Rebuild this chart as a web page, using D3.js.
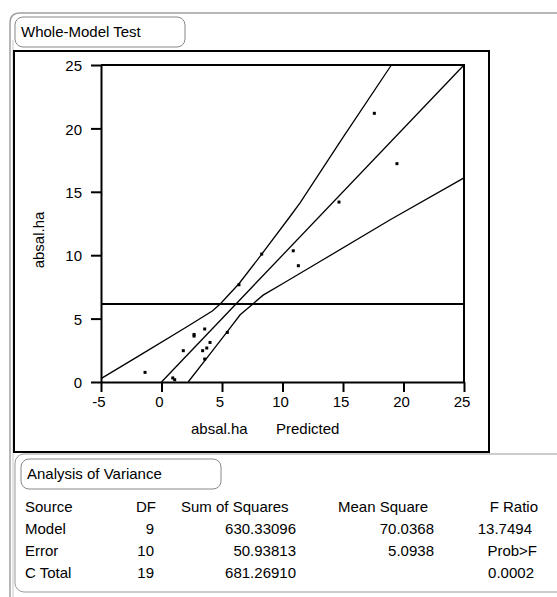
<!DOCTYPE html>
<html>
<head>
<meta charset="utf-8">
<script src="https://cdn.jsdelivr.net/npm/d3@7"></script>
<style>
	body { margin: 0; background: #fff; }
	svg { display: block; font-family: "Liberation Sans", Arial, sans-serif; font-size: 15px; }
	.axis path, .axis line { stroke: #000; stroke-width: 2px; }
	.axis text { font-size: 15px; fill: #000; }
</style>
</head>
<body>
<div id="chart"></div>
<script>
"use strict";

// predicted vs actual (leverage plot points)
var predicted = [-1.36, 0.93, 1.09, 1.80, 2.69, 2.69, 3.57, 3.40, 3.74, 4.01, 3.57, 5.44, 6.40, 8.28, 10.89, 11.31, 14.67, 19.46, 17.59];
var actual    = [0.76, 0.32, 0.18, 2.47, 3.75, 3.62, 4.18, 2.47, 2.68, 3.12, 1.81, 3.91, 7.67, 10.09, 10.35, 9.17, 14.19, 17.22, 21.19];

// confidence curves
var upperX = [-5, -1.8, 2.0, 4.2, 4.85, 6.4, 8.3, 10.7, 11.45, 15, 19];
var upperY = [0.27, 2.1, 4.3, 5.6, 6.15, 7.75, 10.1, 13.15, 14.12, 19.3, 25];
var lowerX = [2.2, 4.0, 5.5, 6.5, 7.6, 8.4, 10, 13.1, 18.9, 25];
var lowerY = [0, 2.2, 4.05, 5.3, 6.2, 6.85, 7.75, 9.5, 12.8, 16.1];
var fitLine = [0, 25];
var meanY = 6.15;

var xTicks = [-5, 0, 5, 10, 15, 20, 25];
var yTicks = [0, 5, 10, 15, 20, 25];

// anova table
var anovaHeader = ["Source", "DF", "Sum of Squares", "Mean Square", "F Ratio"];
var sources = ["Model", "Error", "C Total"];
var dfs = ["9", "10", "19"];
var sumSq = ["630.33096", "50.93813", "681.26910"];
var meanSq = ["70.0368", "5.0938", ""];
var fCol = ["13.7494", "Prob>F", "0.0002"];

var W = 557, H = 597;
var svg = d3.select("#chart").append("svg").attr("width", W).attr("height", H);

// outer report frame
svg.append("path")
	.attr("d", "M10,597 L10,23 Q10,13 20,13 L557,13")
	.attr("fill", "none").attr("stroke", "#a0a0a0").attr("stroke-width", 1.5);
svg.append("line").attr("x1", 13).attr("x2", 13).attr("y1", 40).attr("y2", 597)
	.attr("stroke", "#c8c8c8").attr("stroke-width", 1);

function titleBox(x, y, w, h, label) {
	svg.append("rect").attr("x", x).attr("y", y).attr("width", w).attr("height", h)
		.attr("rx", 8).attr("fill", "#fff").attr("stroke", "#888").attr("stroke-width", 1);
	svg.append("text").attr("x", x + 6).attr("y", y + h / 2 + 5).text(label);
}

titleBox(15, 17, 170, 30, "Whole-Model Test");

// plot frame
svg.append("rect").attr("x", 14).attr("y", 51).attr("width", 475).attr("height", 401)
	.attr("fill", "#fff").attr("stroke", "#000").attr("stroke-width", 2);

var x = d3.scaleLinear().domain([-5, 25]).range([101, 464]);
var y = d3.scaleLinear().domain([0, 25]).range([382, 65]);
var fmt = function(d) { return String(d); }; // plain hyphen minus like the original

var g = svg.append("g");

g.append("g")
	.attr("class", "axis axis--x")
	.attr("transform", "translate(0," + y(0) + ")")
	.call(d3.axisBottom(x).tickValues(xTicks).tickFormat(fmt).tickSize(10).tickSizeOuter(0).tickPadding(4))
	.selectAll("text").attr("dx", "-2.5");

g.append("g")
	.attr("class", "axis axis--y")
	.attr("transform", "translate(" + x(-5) + ",0)")
	.call(d3.axisLeft(y).tickValues(yTicks).tickFormat(fmt).tickSize(10).tickSizeOuter(0).tickPadding(9))
	.selectAll("text").attr("dy", "0.38em");

// top and right frame of the plot
g.append("path")
	.attr("d", "M" + x(-5) + "," + y(25) + "L" + x(25) + "," + y(25) + "L" + x(25) + "," + y(0))
	.attr("fill", "none").attr("stroke", "#000").attr("stroke-width", 2);

// mean line
g.append("line")
	.attr("x1", x(-5)).attr("x2", x(25)).attr("y1", y(meanY)).attr("y2", y(meanY))
	.attr("stroke", "#000").attr("stroke-width", 2);

var line = d3.line().x(function(d) { return x(d[0]); }).y(function(d) { return y(d[1]); });

g.append("path").datum(fitLine.map(function(v) { return [v, v]; }))
	.attr("d", line).attr("fill", "none").attr("stroke", "#000").attr("stroke-width", 1.3);
g.append("path").datum(upperX.map(function(v, i) { return [v, upperY[i]]; }))
	.attr("d", line).attr("fill", "none").attr("stroke", "#000").attr("stroke-width", 1.3);
g.append("path").datum(lowerX.map(function(v, i) { return [v, lowerY[i]]; }))
	.attr("d", line).attr("fill", "none").attr("stroke", "#000").attr("stroke-width", 1.3);

g.selectAll(".pt").data(predicted).enter().append("rect")
	.attr("class", "pt")
	.attr("x", function(d) { return x(d) - 1.5; })
	.attr("y", function(d, i) { return y(actual[i]) - 1.5; })
	.attr("width", 3).attr("height", 3).attr("fill", "#000");

// axis titles
svg.append("text")
	.attr("text-anchor", "middle")
	.attr("transform", "translate(44,240)rotate(-90)")
	.text("absal.ha");
svg.append("text").attr("x", 191).attr("y", 434).text("absal.ha");
svg.append("text").attr("x", 276).attr("y", 434).text("Predicted");

// analysis of variance
svg.append("rect").attr("x", 15).attr("y", 454).attr("width", 560).attr("height", 138)
	.attr("rx", 9).attr("fill", "#fff").attr("stroke", "#999").attr("stroke-width", 1);
titleBox(21, 459, 200, 30, "Analysis of Variance");

var rowY = [512, 534, 556, 578];
var cols = [
	{ x: 25, anchor: "start" },
	{ x: 156, anchor: "end" },
	{ x: 296, anchor: "end" },
	{ x: 434, anchor: "end" },
	{ x: 538, anchor: "end" }
];

anovaHeader.forEach(function(h, i) {
	var t = svg.append("text").attr("y", rowY[0]).text(h);
	if (i === 2) t.attr("x", 181);
	else if (i === 3) t.attr("x", 338);
	else t.attr("x", cols[i].x).attr("text-anchor", cols[i].anchor);
});

var fRight = [532, 537, 534];
sources.forEach(function(s, i) {
	var ry = rowY[i + 1];
	svg.append("text").attr("x", cols[0].x).attr("y", ry).text(s);
	svg.append("text").attr("x", cols[1].x - 2).attr("y", ry).attr("text-anchor", "end").text(dfs[i]);
	svg.append("text").attr("x", cols[2].x).attr("y", ry).attr("text-anchor", "end").text(sumSq[i]);
	svg.append("text").attr("x", cols[3].x).attr("y", ry).attr("text-anchor", "end").text(meanSq[i]);
	svg.append("text").attr("x", fRight[i]).attr("y", ry).attr("text-anchor", "end").text(fCol[i]);
});
</script>
</body>
</html>
